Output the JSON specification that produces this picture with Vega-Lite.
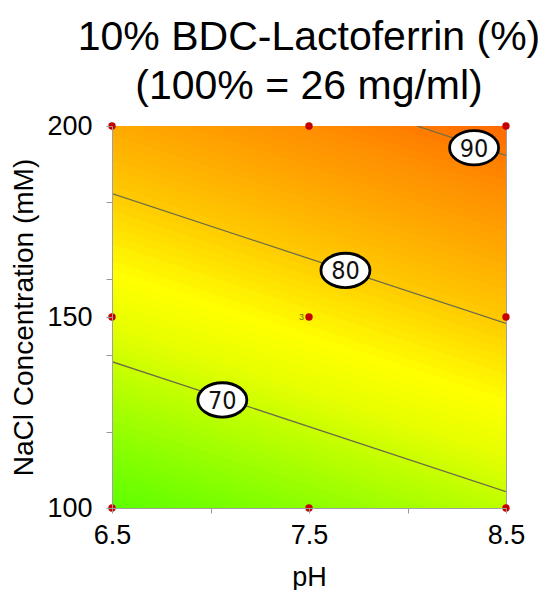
{
  "$schema": "https://vega.github.io/schema/vega-lite/v6.json",
  "width": 394,
  "height": 382,
  "autosize": {"type": "none"},
  "padding": {"left": 112, "top": 126, "right": 38, "bottom": 82},
  "background": "white",
  "config": {
    "font": "Liberation Sans",
    "view": {"stroke": "#a0a0a0", "strokeWidth": 1}
  },
  "title": {
    "text": ["10% BDC-Lactoferrin (%)", "(100% = 26 mg/ml)"],
    "fontSize": 41,
    "fontWeight": "normal",
    "font": "Liberation Sans",
    "color": "#000000",
    "lineHeight": 49,
    "anchor": "middle",
    "frame": "group",
    "offset": 4
  },
  "datasets": {
    "bands": [
      {"v": 61.0, "p": 6.5, "n": 98.7}, {"v": 61.0, "p": 8.5, "n": 64.7},
      {"v": 61.5, "p": 6.5, "n": 100.9}, {"v": 61.5, "p": 8.5, "n": 66.9},
      {"v": 62.0, "p": 6.5, "n": 103.1}, {"v": 62.0, "p": 8.5, "n": 69.1},
      {"v": 62.5, "p": 6.5, "n": 105.3}, {"v": 62.5, "p": 8.5, "n": 71.3},
      {"v": 63.0, "p": 6.5, "n": 107.5}, {"v": 63.0, "p": 8.5, "n": 73.5},
      {"v": 63.5, "p": 6.5, "n": 109.7}, {"v": 63.5, "p": 8.5, "n": 75.7},
      {"v": 64.0, "p": 6.5, "n": 111.9}, {"v": 64.0, "p": 8.5, "n": 77.9},
      {"v": 64.5, "p": 6.5, "n": 114.1}, {"v": 64.5, "p": 8.5, "n": 80.1},
      {"v": 65.0, "p": 6.5, "n": 116.3}, {"v": 65.0, "p": 8.5, "n": 82.3},
      {"v": 65.5, "p": 6.5, "n": 118.5}, {"v": 65.5, "p": 8.5, "n": 84.5},
      {"v": 66.0, "p": 6.5, "n": 120.7}, {"v": 66.0, "p": 8.5, "n": 86.7},
      {"v": 66.5, "p": 6.5, "n": 122.9}, {"v": 66.5, "p": 8.5, "n": 88.9},
      {"v": 67.0, "p": 6.5, "n": 125.1}, {"v": 67.0, "p": 8.5, "n": 91.1},
      {"v": 67.5, "p": 6.5, "n": 127.3}, {"v": 67.5, "p": 8.5, "n": 93.3},
      {"v": 68.0, "p": 6.5, "n": 129.5}, {"v": 68.0, "p": 8.5, "n": 95.5},
      {"v": 68.5, "p": 6.5, "n": 131.7}, {"v": 68.5, "p": 8.5, "n": 97.7},
      {"v": 69.0, "p": 6.5, "n": 133.9}, {"v": 69.0, "p": 8.5, "n": 99.9},
      {"v": 69.5, "p": 6.5, "n": 136.1}, {"v": 69.5, "p": 8.5, "n": 102.1},
      {"v": 70.0, "p": 6.5, "n": 138.3}, {"v": 70.0, "p": 8.5, "n": 104.3},
      {"v": 70.5, "p": 6.5, "n": 140.5}, {"v": 70.5, "p": 8.5, "n": 106.5},
      {"v": 71.0, "p": 6.5, "n": 142.7}, {"v": 71.0, "p": 8.5, "n": 108.7},
      {"v": 71.5, "p": 6.5, "n": 144.9}, {"v": 71.5, "p": 8.5, "n": 110.9},
      {"v": 72.0, "p": 6.5, "n": 147.1}, {"v": 72.0, "p": 8.5, "n": 113.1},
      {"v": 72.5, "p": 6.5, "n": 149.3}, {"v": 72.5, "p": 8.5, "n": 115.3},
      {"v": 73.0, "p": 6.5, "n": 151.5}, {"v": 73.0, "p": 8.5, "n": 117.5},
      {"v": 73.5, "p": 6.5, "n": 153.7}, {"v": 73.5, "p": 8.5, "n": 119.7},
      {"v": 74.0, "p": 6.5, "n": 155.9}, {"v": 74.0, "p": 8.5, "n": 121.9},
      {"v": 74.5, "p": 6.5, "n": 158.1}, {"v": 74.5, "p": 8.5, "n": 124.1},
      {"v": 75.0, "p": 6.5, "n": 160.3}, {"v": 75.0, "p": 8.5, "n": 126.3},
      {"v": 75.5, "p": 6.5, "n": 162.5}, {"v": 75.5, "p": 8.5, "n": 128.5},
      {"v": 76.0, "p": 6.5, "n": 164.7}, {"v": 76.0, "p": 8.5, "n": 130.7},
      {"v": 76.5, "p": 6.5, "n": 166.9}, {"v": 76.5, "p": 8.5, "n": 132.9},
      {"v": 77.0, "p": 6.5, "n": 169.1}, {"v": 77.0, "p": 8.5, "n": 135.1},
      {"v": 77.5, "p": 6.5, "n": 171.3}, {"v": 77.5, "p": 8.5, "n": 137.3},
      {"v": 78.0, "p": 6.5, "n": 173.5}, {"v": 78.0, "p": 8.5, "n": 139.5},
      {"v": 78.5, "p": 6.5, "n": 175.7}, {"v": 78.5, "p": 8.5, "n": 141.7},
      {"v": 79.0, "p": 6.5, "n": 177.9}, {"v": 79.0, "p": 8.5, "n": 143.9},
      {"v": 79.5, "p": 6.5, "n": 180.1}, {"v": 79.5, "p": 8.5, "n": 146.1},
      {"v": 80.0, "p": 6.5, "n": 182.3}, {"v": 80.0, "p": 8.5, "n": 148.3},
      {"v": 80.5, "p": 6.5, "n": 184.5}, {"v": 80.5, "p": 8.5, "n": 150.5},
      {"v": 81.0, "p": 6.5, "n": 186.7}, {"v": 81.0, "p": 8.5, "n": 152.7},
      {"v": 81.5, "p": 6.5, "n": 188.9}, {"v": 81.5, "p": 8.5, "n": 154.9},
      {"v": 82.0, "p": 6.5, "n": 191.1}, {"v": 82.0, "p": 8.5, "n": 157.1},
      {"v": 82.5, "p": 6.5, "n": 193.3}, {"v": 82.5, "p": 8.5, "n": 159.3},
      {"v": 83.0, "p": 6.5, "n": 195.5}, {"v": 83.0, "p": 8.5, "n": 161.5},
      {"v": 83.5, "p": 6.5, "n": 197.7}, {"v": 83.5, "p": 8.5, "n": 163.7},
      {"v": 84.0, "p": 6.5, "n": 199.9}, {"v": 84.0, "p": 8.5, "n": 165.9},
      {"v": 84.5, "p": 6.5, "n": 202.1}, {"v": 84.5, "p": 8.5, "n": 168.1},
      {"v": 85.0, "p": 6.5, "n": 204.3}, {"v": 85.0, "p": 8.5, "n": 170.3},
      {"v": 85.5, "p": 6.5, "n": 206.5}, {"v": 85.5, "p": 8.5, "n": 172.5},
      {"v": 86.0, "p": 6.5, "n": 208.7}, {"v": 86.0, "p": 8.5, "n": 174.7},
      {"v": 86.5, "p": 6.5, "n": 210.9}, {"v": 86.5, "p": 8.5, "n": 176.9},
      {"v": 87.0, "p": 6.5, "n": 213.1}, {"v": 87.0, "p": 8.5, "n": 179.1},
      {"v": 87.5, "p": 6.5, "n": 215.3}, {"v": 87.5, "p": 8.5, "n": 181.3},
      {"v": 88.0, "p": 6.5, "n": 217.5}, {"v": 88.0, "p": 8.5, "n": 183.5},
      {"v": 88.5, "p": 6.5, "n": 219.7}, {"v": 88.5, "p": 8.5, "n": 185.7},
      {"v": 89.0, "p": 6.5, "n": 221.9}, {"v": 89.0, "p": 8.5, "n": 187.9},
      {"v": 89.5, "p": 6.5, "n": 224.1}, {"v": 89.5, "p": 8.5, "n": 190.1},
      {"v": 90.0, "p": 6.5, "n": 226.3}, {"v": 90.0, "p": 8.5, "n": 192.3},
      {"v": 90.5, "p": 6.5, "n": 228.5}, {"v": 90.5, "p": 8.5, "n": 194.5},
      {"v": 91.0, "p": 6.5, "n": 230.7}, {"v": 91.0, "p": 8.5, "n": 196.7},
      {"v": 91.5, "p": 6.5, "n": 232.9}, {"v": 91.5, "p": 8.5, "n": 198.9}
    ],
    "contours": [
      {"c": 70, "p": 6.5, "n": 138.3}, {"c": 70, "p": 8.5, "n": 104.3},
      {"c": 80, "p": 6.5, "n": 182.3}, {"c": 80, "p": 8.5, "n": 148.3},
      {"c": 90, "p": 8.047, "n": 200}, {"c": 90, "p": 8.5, "n": 192.3}
    ],
    "labels": [
      {"t": "70", "p": 7.06, "n": 128.3},
      {"t": "80", "p": 7.685, "n": 162.2},
      {"t": "90", "p": 8.338, "n": 194.3}
    ],
    "design": [
      {"p": 6.5, "n": 100}, {"p": 7.5, "n": 100}, {"p": 8.5, "n": 100},
      {"p": 6.5, "n": 150}, {"p": 7.5, "n": 150}, {"p": 8.5, "n": 150},
      {"p": 6.5, "n": 200}, {"p": 7.5, "n": 200}, {"p": 8.5, "n": 200}
    ],
    "reps": [
      {"p": 7.5, "n": 150, "t": "3"}
    ]
  },
  "layer": [
    {
      "data": {"name": "bands"},
      "mark": {"type": "area", "clip": true, "interpolate": "linear"},
      "encoding": {
        "x": {
          "field": "p", "type": "quantitative", "title": "pH",
          "scale": {"domain": [6.5, 8.5], "nice": false, "zero": false},
          "axis": {
            "values": [6.5, 7, 7.5, 8, 8.5],
            "labelExpr": "datum.value % 1 == 0 ? '' : format(datum.value, '.1f')",
            "labelFontSize": 27, "labelColor": "#000000", "labelBaseline": "alphabetic",
            "labelPadding": 30, "labelFlush": false, "labelOverlap": false, "labelBound": false,
            "tickSize": 5, "tickColor": "#9a9a9a", "domain": true, "domainColor": "#a0a0a0",
            "grid": false, "zindex": 1,
            "titleFontSize": 27, "titleFontWeight": "normal", "titleColor": "#000000",
            "titleY": 77, "titleBaseline": "alphabetic"
          }
        },
        "y": {
          "field": "n", "type": "quantitative", "title": "NaCl Concentration (mM)", "stack": null,
          "scale": {"domain": [100, 200], "nice": false, "zero": false},
          "axis": {
            "values": [100, 120, 140, 150, 160, 180, 200],
            "labelExpr": "datum.value % 50 == 0 ? datum.label : ''",
            "labelFontSize": 27, "labelColor": "#000000", "labelPadding": 14,
            "labelFlush": false, "labelOverlap": false, "labelBound": false,
            "tickSize": 6, "tickColor": "#9a9a9a", "domain": true, "domainColor": "#a0a0a0",
            "grid": false, "zindex": 1,
            "titleFontSize": 28, "titleFontWeight": "normal", "titleColor": "#000000",
            "titleX": -88, "titleY": 191, "titleAngle": -90, "titleBaseline": "middle", "titleAlign": "center"
          }
        },
        "y2": {"datum": 300},
        "color": {
          "field": "v", "type": "quantitative", "legend": null,
          "scale": {
            "domain": [61, 65, 69, 72, 75, 80, 84, 88, 92],
            "range": ["#5cff00", "#8cff00", "#c0ff00", "#e8ff00", "#ffff00", "#ffc800", "#ffa800", "#ff8a00", "#ff6400"],
            "interpolate": "rgb"
          }
        },
        "detail": {"field": "v", "type": "quantitative"}
      }
    },
    {
      "data": {"name": "contours"},
      "mark": {"type": "line", "clip": true, "color": "#6e6e48", "strokeWidth": 1.3},
      "encoding": {
        "x": {"field": "p", "type": "quantitative"},
        "y": {"field": "n", "type": "quantitative"},
        "detail": {"field": "c", "type": "nominal"}
      }
    },
    {
      "data": {"name": "labels"},
      "mark": {
        "type": "point", "filled": true, "fill": "#ffffff", "stroke": "#000000", "strokeWidth": 2.8,
        "opacity": 1, "fillOpacity": 1, "strokeOpacity": 1,
        "shape": "M-1,0A1,0.7,0,1,1,1,0A1,0.7,0,1,1,-1,0Z", "size": 2400
      },
      "encoding": {
        "x": {"field": "p", "type": "quantitative"},
        "y": {"field": "n", "type": "quantitative"}
      }
    },
    {
      "data": {"name": "labels"},
      "mark": {
        "type": "text", "font": "'Liberation Sans Narrow', 'DejaVu Sans Condensed', 'Liberation Sans', sans-serif",
        "fontSize": 25, "fontWeight": "normal",
        "color": "#111111", "align": "center", "baseline": "middle", "dy": 1
      },
      "encoding": {
        "x": {"field": "p", "type": "quantitative"},
        "y": {"field": "n", "type": "quantitative"},
        "text": {"field": "t"}
      }
    },
    {
      "data": {"name": "design"},
      "mark": {"type": "point", "filled": true, "color": "#c40000", "size": 55, "opacity": 1},
      "encoding": {
        "x": {"field": "p", "type": "quantitative"},
        "y": {"field": "n", "type": "quantitative"}
      }
    },
    {
      "data": {"name": "reps"},
      "mark": {"type": "text", "fontSize": 9, "color": "#6b7000", "align": "right", "baseline": "middle", "dx": -5},
      "encoding": {
        "x": {"field": "p", "type": "quantitative"},
        "y": {"field": "n", "type": "quantitative"},
        "text": {"field": "t"}
      }
    }
  ]
}
